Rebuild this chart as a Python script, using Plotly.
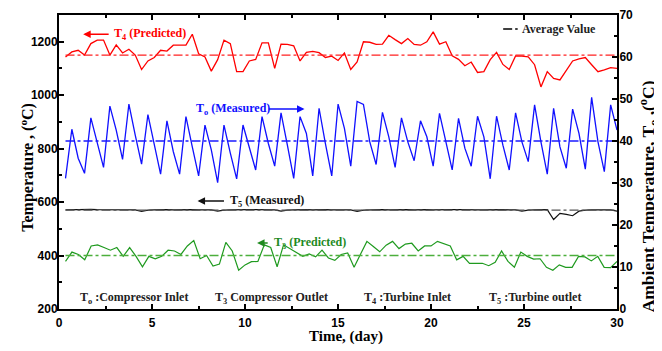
import numpy as np
import plotly.graph_objects as go

# ---------------- data ----------------
T4_pred = [1143,1162,1168,1150,1193,1206,1206,1150,1188,1158,1172,1150,1096,1128,1141,1168,1165,1187,1187,1187,
           1228,1155,1143,1090,1133,1206,1193,1088,1088,1128,1134,1196,1196,1100,1191,1190,1185,1128,1160,1164,
           1159,1141,1146,1130,1158,1096,1124,1200,1198,1190,1191,1224,1208,1193,1212,1190,1187,1200,1237,1191,
           1200,1147,1134,1110,1124,1085,1088,1133,1160,1115,1096,1147,1146,1143,1114,1031,1088,1063,1057,1095,
           1128,1136,1141,1114,1088,1095,1103,1100]
To_meas = [31.1,42.8,35.9,32.3,45.5,39.4,33.7,48.3,42.6,35.6,48.8,41.4,34.5,46.3,39.4,32.1,44.8,37.5,32.1,45.8,
           38.6,31.7,43.8,37.9,30.1,43.8,37.1,31.0,43.8,38.6,33.1,45.8,39.4,34.0,46.7,39.0,31.1,45.8,41.8,31.7,
           47.8,39.4,31.7,48.8,43.0,34.0,49.4,48.7,39.8,34.4,46.8,41.0,33.7,45.5,39.8,35.3,44.8,41.0,34.0,46.6,
           39.8,33.1,45.4,38.3,34.0,45.9,41.0,31.0,45.9,39.0,33.1,46.7,39.8,35.1,48.6,39.8,32.1,47.8,38.6,33.5,
           47.6,41.8,33.3,50.4,39.8,32.7,48.6,42.6]
T5_meas = [571,572,571,572,573,572,572,571,572,573,572,571,565,570,571,572,572,571,572,573,572,571,572,571,
           566,570,571,572,571,572,572,571,572,571,566,570,571,572,572,571,572,572,571,572,571,571,565,570,
           571,572,572,571,572,573,572,571,572,572,571,572,571,572,572,571,572,571,571,572,571,572,571,571,
           566,570,571,571,572,535,558,554,549,566,570,571,572,571,571,566]
T3_pred = [378,413,404,384,436,440,430,420,430,397,430,397,358,397,388,397,420,417,404,436,
           456,388,400,361,368,449,417,345,365,377,378,440,430,358,440,426,410,397,406,395,
           420,391,382,404,410,356,405,453,434,414,439,453,426,443,446,417,436,436,453,443,
           436,384,397,371,371,371,362,375,417,378,356,413,397,387,388,356,345,365,356,356,
           397,395,380,397,356,355,378]

avg_T4, avg_To, avg_T5, avg_T3 = 1150, 40, 570, 400
day_start, day_end = 0.35, 30.0

x_ticks = [0, 5, 10, 15, 20, 25, 30]
left_ticks = [200, 400, 600, 800, 1000, 1200]
right_ticks = [0, 10, 20, 30, 40, 50, 60, 70]

def days(series):
    return np.linspace(day_start, day_end, len(series))

SERIF = "Liberation Serif"
SANS = "Liberation Sans"

fig = go.Figure()

def add_series(vals, avg, color, avg_color, width, axis="y"):
    t = days(vals)
    fig.add_trace(go.Scatter(x=t, y=vals, mode="lines", yaxis=axis,
                             line=dict(color=color, width=width), showlegend=False))
    fig.add_trace(go.Scatter(x=[t[0], t[-1]], y=[avg, avg], mode="lines", yaxis=axis,
                             line=dict(color=avg_color, width=1.4, dash="dashdot"), showlegend=False))

add_series(T4_pred, avg_T4, "#ff0000", "#ff2020", 1.3)
add_series(To_meas, avg_To, "#1010ff", "#1a1aff", 1.3, axis="y2")
add_series(T5_meas, avg_T5, "#111111", "#555555", 1.2)
add_series(T3_pred, avg_T3, "#1f9a1f", "#4caf3c", 1.2)

axis_common = dict(showline=True, linewidth=2, linecolor="black", showgrid=False, zeroline=False,
                   ticks="inside", ticklen=5, tickwidth=1.5, tickcolor="black", automargin=False,
                   tickfont=dict(family=SANS, size=12, color="black", weight="bold"))

# page body has an 8px default margin -> figure is sized/offset to compensate
fig.update_layout(
    width=654, height=343,
    margin=dict(l=51, r=45, t=7, b=42),
    plot_bgcolor="white", paper_bgcolor="white",
    xaxis=dict(range=[0, 30], tickvals=x_ticks, mirror="ticks", ticklabelstandoff=2,
               minor=dict(dtick=2.5, tick0=0, ticks="inside", ticklen=3, tickcolor="black"),
               **axis_common),
    yaxis=dict(range=[200, 1300], tickvals=left_ticks, mirror=False, ticklabelstandoff=-3,
               minor=dict(dtick=100, tick0=200, ticks="inside", ticklen=3, tickcolor="black"),
               **axis_common),
    yaxis2=dict(range=[0, 70], tickvals=right_ticks, overlaying="y", side="right", ticklabelstandoff=-2,
                minor=dict(dtick=5, tick0=0, ticks="inside", ticklen=3, tickcolor="black"),
                **axis_common),
    showlegend=False,
)

# axis titles
def title(text, x, y, angle, size):
    fig.add_annotation(xref="paper", yref="paper", x=x, y=y, text="<b>" + text + "</b>", showarrow=False,
                       textangle=angle, xanchor="center", yanchor="middle",
                       font=dict(family=SERIF, size=size, color="black"))

title("Time, (day)", 0.514, -0.092, 0, 15)
title("Temperature , (<sup>o</sup>C)", -0.056, 0.483, -90, 16)
title("Ambient Temperature, T<sub>o</sub> ,(<sup>o</sup>C)", 1.056, 0.384, -90, 17.5)

def label(text, x, y, color, xanchor="left", size=12):
    fig.add_annotation(x=x, y=y, xref="x", yref="y", text="<b>" + text + "</b>", showarrow=False,
                       xanchor=xanchor, yanchor="middle",
                       font=dict(family=SERIF, size=size, color=color))

def arrow(x_tail, x_head, y, color):
    fig.add_annotation(x=x_head, y=y, ax=x_tail, ay=y, xref="x", yref="y", axref="x", ayref="y",
                       text="", showarrow=True, arrowhead=2, arrowsize=1, arrowwidth=1.5, arrowcolor=color)

label("T<sub>4</sub> (Predicted)", 2.85, 1228, "#ff0000")
arrow(2.75, 1.3, 1228, "#ff0000")
label("T<sub>o</sub> (Measured)", 7.25, 948, "#1010ff")
arrow(11.2, 13.2, 948, "#1010ff")
label("T<sub>5</sub> (Measured)", 9.1, 604, "#111111")
arrow(8.95, 7.45, 604, "#111111")
label("T<sub>3</sub> (Predicted)", 11.45, 447, "#1f8a1f")
arrow(11.3, 10.65, 447, "#1f8a1f")

label("T<sub>o</sub> :Compressor Inlet", 1.0, 242, "#222222")
label("T<sub>3</sub> Compressor Outlet", 8.3, 242, "#222222")
label("T<sub>4</sub> :Turbine Inlet", 16.3, 242, "#222222")
label("T<sub>5</sub> :Turbine outlet", 23.0, 242, "#222222")

# "Average Value" key
fig.add_shape(type="line", xref="paper", yref="paper", x0=0.796, x1=0.822, y0=0.952, y1=0.952,
              line=dict(color="black", width=1.5, dash="dashdot"))
fig.add_annotation(xref="paper", yref="paper", x=0.826, y=0.952, text="<b>Average Value</b>", showarrow=False,
                   xanchor="left", yanchor="middle", font=dict(family=SERIF, size=12, color="#222222"))

fig.write_html("out.html")
